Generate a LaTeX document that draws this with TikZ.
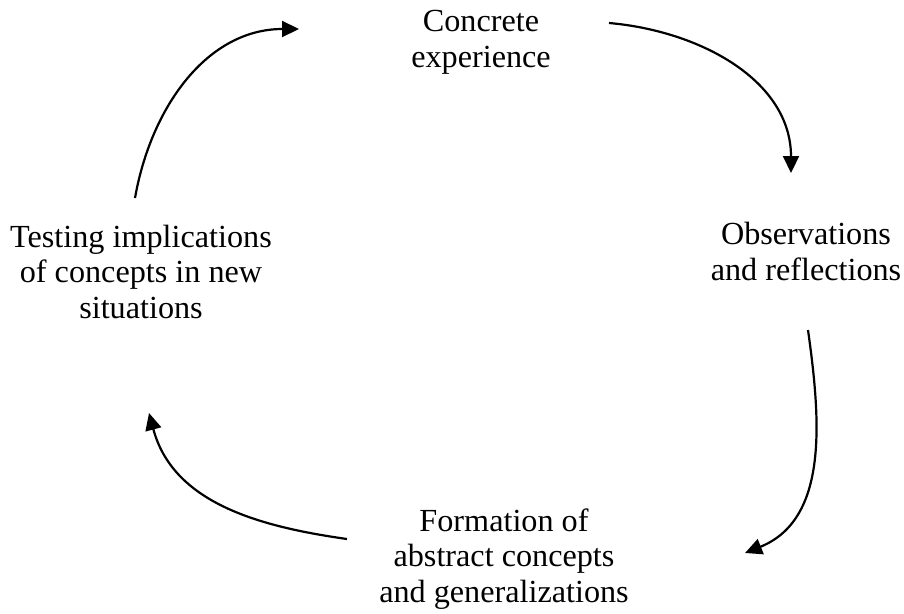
\documentclass[tikz,border=0pt]{standalone}
\usepackage{fontspec}
\setmainfont{Liberation Serif}
\usetikzlibrary{arrows.meta}
\begin{document}
\begin{tikzpicture}[x=1pt,y=1pt,
 lbl/.style={align=center, inner sep=0pt, font=\fontsize{32.2}{35.5}\selectfont, anchor=base},
 cyc/.style={line width=2.2pt, -{Triangle[length=17pt,width=16pt]}}]
\useasboundingbox (0,0) rectangle (904,-613);
\node[lbl] (ce) at (481,-67) {Concrete\\experience};
\node[lbl] (or) at (806,-280) {Observations\\and reflections};
\node[lbl] (fa) at (504,-602) {Formation of\\abstract concepts\\and generalizations};
\node[lbl] (ti) at (141,-318) {Testing implications\\of concepts in new\\situations};
\coordinate (a1s) at (135,-198); \coordinate (a1e) at (299,-29);
\coordinate (a2s) at (609,-23);  \coordinate (a2e) at (791,-173);
\coordinate (a3s) at (808,-330); \coordinate (a3e) at (745,-553);
\coordinate (a4s) at (347,-539); \coordinate (a4e) at (149,-413);
\draw[cyc] (a1s) to[out=80,in=180] (a1e);
\draw[cyc] (a2s) to[out=-5,in=90] (a2e);
\draw[cyc] (a3s) to[out=-82,in=22] (a3e);
\draw[cyc] (a4s) to[out=172,in=-75] (a4e);
\end{tikzpicture}
\end{document}
